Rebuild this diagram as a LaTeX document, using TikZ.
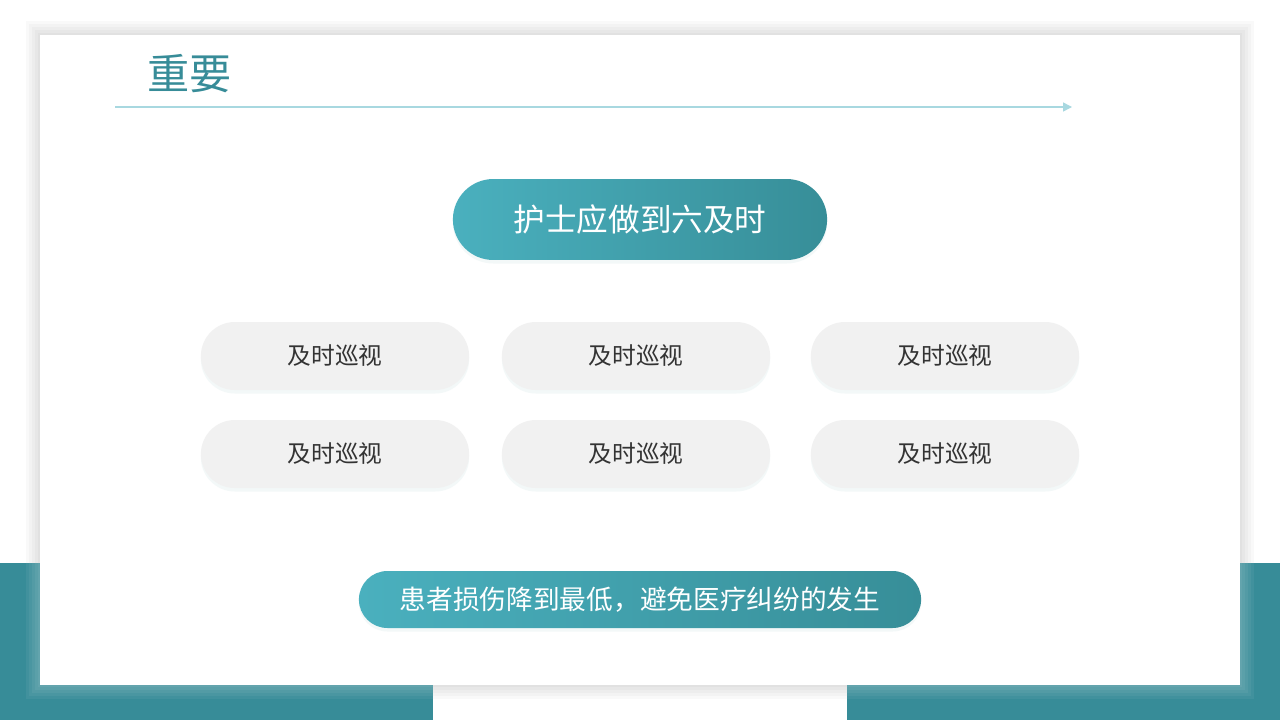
\documentclass[tikz,border=0pt]{standalone}
\usepackage{fontspec}
\setmainfont{Noto Sans CJK SC}
\usetikzlibrary{shapes.misc,shadows,arrows.meta}
\definecolor{teal1}{HTML}{378C98}
\definecolor{tealL}{HTML}{4AB0BE}
\definecolor{tealR}{HTML}{378E98}
\definecolor{pillgray}{HTML}{F1F1F1}
\definecolor{linecol}{HTML}{A8D8E0}

\begin{document}
\begin{tikzpicture}[x=0.02cm, y=-0.02cm,
  pill/.style={rounded rectangle, minimum width=5.6cm, minimum height=1.36cm, fill=pillgray, text=black!80, font=\fontsize{13.5}{15}\selectfont,
    drop shadow={fill=teal1!30, opacity=0.2, shadow xshift=0pt, shadow yshift=-2pt}},
  tealpill/.style={rounded rectangle, left color=tealL, right color=tealR, text=white,
    drop shadow={fill=teal1!30, opacity=0.2, shadow xshift=0pt, shadow yshift=-2pt}}]
\useasboundingbox (0,0) rectangle (1280,720);
\fill[white] (0,0) rectangle (1280,720);

% Background bands and card
\foreach \d in {14,11,8,5,2}
  \fill[black, opacity=0.025] (40-\d,35-\d) rectangle (1240+\d,685+\d);
\fill[teal1] (0,563) rectangle (433,720);
\fill[teal1] (847,563) rectangle (1280,720);
\begin{scope}
  \clip (0,563) rectangle (433,720) (847,563) rectangle (1280,720);
  \foreach \d in {14,11,8,5,2}
    \fill[white, opacity=0.05] (40-\d,35-\d) rectangle (1240+\d,685+\d);
\end{scope}
\fill[white] (40,35) rectangle (1240,685);

% Title
\node[anchor=west, text=teal1, font=\fontsize{24}{28}\selectfont, inner sep=0pt] (title) at (147,74) {重要};
\coordinate (lineA) at (115,107);
\coordinate (lineB) at (1072,107);
\draw[linecol, line width=0.8pt, -{Triangle[length=5pt,width=5pt]}] (lineA) -- (lineB);

% Boxes
\node[tealpill, minimum width=7.72cm, minimum height=1.62cm, font=\fontsize{18}{20}\selectfont] (head) at (640,219.5) {护士应做到六及时};

\node[pill] (a1) at (335,356) {及时巡视};
\node[pill] (a2) at (636,356) {及时巡视};
\node[pill] (a3) at (945,356) {及时巡视};
\node[pill] (b1) at (335,454) {及时巡视};
\node[pill] (b2) at (636,454) {及时巡视};
\node[pill] (b3) at (945,454) {及时巡视};

\node[tealpill, minimum width=11.48cm, minimum height=1.14cm, font=\fontsize{15.2}{17}\selectfont] (result) at (640,599.5) {患者损伤降到最低，避免医疗纠纷的发生};
\end{tikzpicture}
\end{document}
